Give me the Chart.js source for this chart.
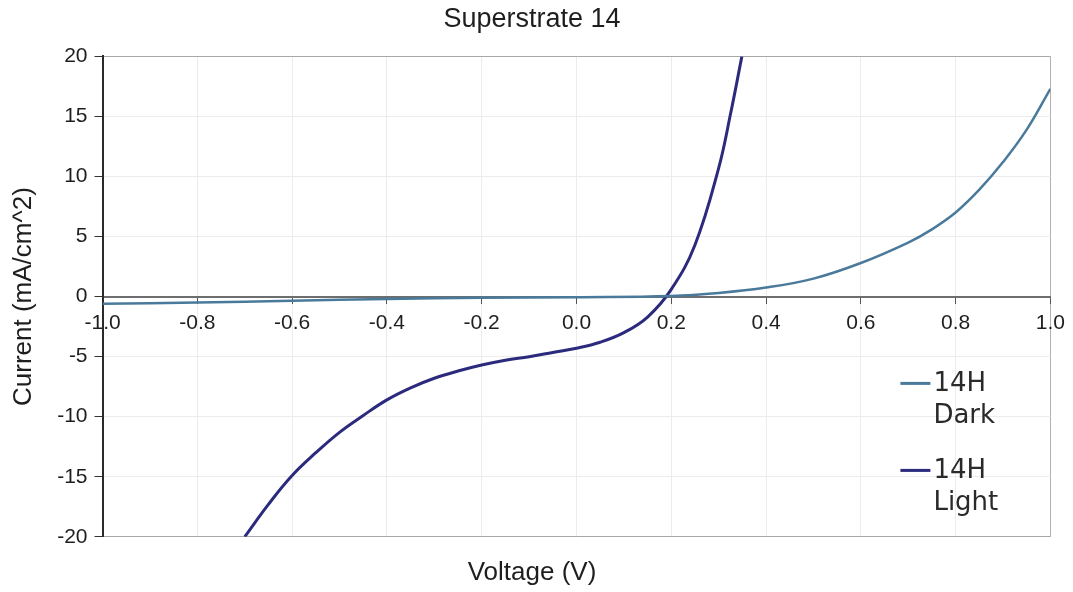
<!DOCTYPE html>
<html>
<head>
<meta charset="utf-8">
<script src="https://cdn.jsdelivr.net/npm/chart.js@4"></script>
<style>
  html, body { margin: 0; padding: 0; background: #fff; }
  #wrap { width: 1073px; height: 592px; }
</style>
</head>
<body>
<div id="wrap"><canvas id="chart1"></canvas></div>
<script>
// data
const darkVoltage = [-1.0, -0.8, -0.6, -0.4, -0.2, 0.0, 0.2, 0.3, 0.4, 0.5, 0.6, 0.7, 0.75, 0.8, 0.85, 0.9, 0.95, 1.0];
const darkCurrent = [-0.6, -0.5, -0.35, -0.2, -0.1, -0.05, 0.05, 0.3, 0.75, 1.5, 2.8, 4.5, 5.6, 7.0, 8.9, 11.2, 13.9, 17.3];

const lightVoltage = [-0.7, -0.65, -0.6, -0.55, -0.5, -0.45, -0.4, -0.35, -0.3, -0.25, -0.2, -0.15, -0.1, -0.05,
  0.0, 0.05, 0.1, 0.15, 0.2, 0.25, 0.3, 0.325, 0.349];
const lightCurrent = [-20, -17.3, -14.9, -13.0, -11.3, -9.9, -8.6, -7.6, -6.8, -6.2, -5.7, -5.3, -5.0, -4.65,
  -4.3, -3.8, -3.0, -1.7, 0.6, 4.3, 10.7, 15.2, 20];

const seriesNames = [['14H', 'Dark'], ['14H', 'Light']];
const seriesColors = ['#4a7a9b', '#2b2a7d'];

const toPoints = (xs, ys) => xs.map((x, i) => ({ x: x, y: ys[i] }));

// legend drawn inside the plot on the right
const innerLegend = {
  id: 'innerLegend',
  afterDraw(chart) {
    const ctx = chart.ctx;
    const area = chart.chartArea;
    ctx.save();
    ctx.font = '26px "DejaVu Sans"';
    ctx.fillStyle = '#2a2a2a';
    ctx.textBaseline = 'middle';
    chart.data.datasets.forEach((ds, i) => {
      const y = area.top + 327 + i * 87;
      const x = area.right - 150;
      ctx.strokeStyle = ds.borderColor;
      ctx.lineWidth = 3;
      ctx.beginPath();
      ctx.moveTo(x, y);
      ctx.lineTo(x + 30, y);
      ctx.stroke();
      ds.label.forEach((line, j) => {
        ctx.fillText(line, x + 33, y + 1 + j * 32);
      });
    });
    ctx.restore();
  }
};

const edge = (v, lo, hi) => v === lo || v === hi;

const ctx = document.getElementById('chart1').getContext('2d');
const chart = new Chart(ctx, {
  type: 'line',
  data: {
    datasets: [{
      label: seriesNames[0],
      data: toPoints(darkVoltage, darkCurrent),
      borderColor: seriesColors[0],
      borderWidth: 2.5,
      pointRadius: 0,
      tension: 0.4
    }, {
      label: seriesNames[1],
      data: toPoints(lightVoltage, lightCurrent),
      borderColor: seriesColors[1],
      borderWidth: 3,
      pointRadius: 0,
      tension: 0.4
    }]
  },
  options: {
    responsive: true,
    maintainAspectRatio: false,
    animation: false,
    layout: { padding: { left: 8, right: 17, top: 0, bottom: 2 } },
    plugins: {
      legend: { display: false },
      tooltip: { enabled: false },
      title: {
        display: true,
        text: 'Superstrate 14',
        color: '#1e1e1e',
        font: { family: 'Liberation Sans', size: 27, weight: 'normal' },
        padding: { top: 3, bottom: 21 }
      },
      subtitle: {
        display: true,
        position: 'bottom',
        text: 'Voltage (V)',
        color: '#1e1e1e',
        font: { family: 'Liberation Sans', size: 26 },
        padding: { top: 20, bottom: 2 }
      }
    },
    scales: {
      x: {
        type: 'linear',
        position: { y: 0 },
        min: -1,
        max: 1,
        ticks: {
          stepSize: 0.2,
          color: '#1e1e1e',
          font: { family: 'Liberation Sans', size: 21 },
          padding: 8,
          callback: v => v.toFixed(1)
        },
        grid: {
          color: c => c.tick && edge(c.tick.value, -1, 1) ? '#b0b0b0' : '#ececec',
          lineWidth: 1,
          tickLength: 6,
          tickColor: '#555'
        },
        border: { color: '#6e6e6e', width: 2 }
      },
      y: {
        min: -20,
        max: 20,
        ticks: {
          stepSize: 5,
          color: '#1e1e1e',
          font: { family: 'Liberation Sans', size: 21 },
          padding: 7
        },
        grid: {
          color: c => c.tick && edge(c.tick.value, -20, 20) ? '#a8a8a8' : '#ececec',
          lineWidth: 1,
          tickLength: 8,
          tickColor: '#333'
        },
        border: { color: '#2a2a2a', width: 2 },
        title: {
          display: true,
          text: 'Current (mA/cm^2)',
          color: '#1e1e1e',
          font: { family: 'Liberation Sans', size: 26 },
          padding: { top: 0, bottom: 11 }
        }
      }
    }
  },
  plugins: [innerLegend]
});
</script>
</body>
</html>
